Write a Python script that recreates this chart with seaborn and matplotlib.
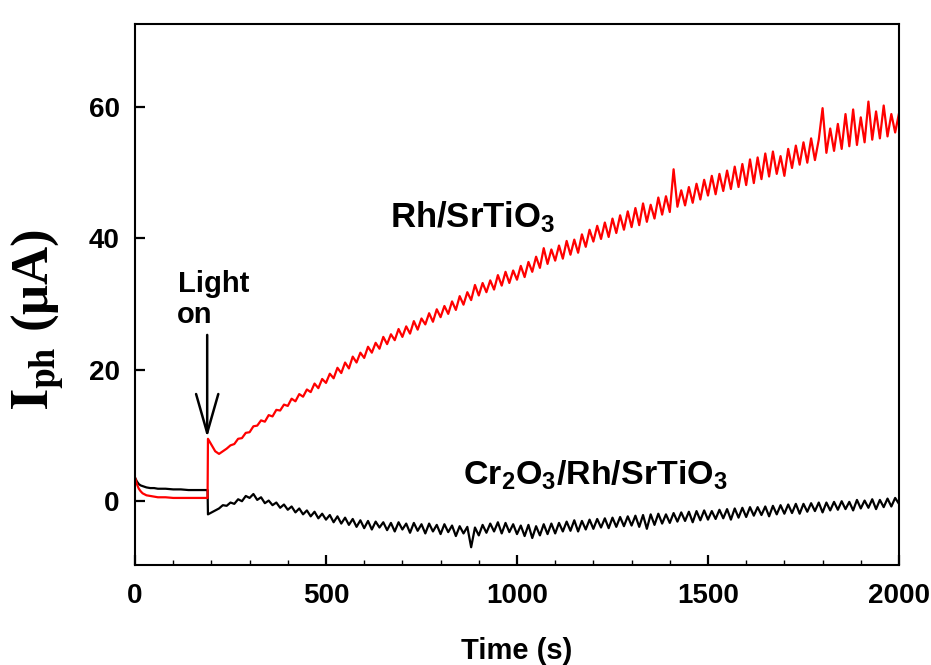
import numpy as np
import pandas as pd
import matplotlib
matplotlib.use("Agg")
import matplotlib.pyplot as plt
import seaborn as sns

# ---------------- data ----------------
t_pre = [0, 5, 10, 15, 20, 30, 40, 50, 60, 80, 100, 120, 140, 160, 180, 190]
rh_pre = [3.6, 2.6, 1.9, 1.5, 1.2, 0.9, 0.8, 0.7, 0.6, 0.6, 0.5, 0.5, 0.5, 0.5, 0.5, 0.5]
cr_pre = [3.6, 3.0, 2.6, 2.4, 2.3, 2.1, 2.0, 2.0, 1.9, 1.9, 1.8, 1.8, 1.7, 1.7, 1.7, 1.7]

t_post = [191] + list(range(210, 2001, 10))
rh_post = [
    9.5, 7.6, 7.2, 7.6, 8.0, 8.5, 8.7, 9.5, 9.6, 10.4,
    10.5, 11.4, 11.5, 12.3, 12.1, 13.1, 12.9, 13.9, 13.8, 14.7,
    14.5, 15.6, 15.2, 16.3, 15.9, 17.0, 16.6, 17.9, 17.2, 18.6,
    18.0, 19.4, 18.7, 20.3, 19.5, 21.1, 20.2, 22.0, 21.1, 22.6,
    21.8, 23.5, 22.6, 24.1, 23.2, 25.0, 23.9, 25.4, 24.5, 26.2,
    25.0, 26.6, 25.5, 27.4, 26.1, 27.8, 26.9, 28.6, 27.3, 29.2,
    28.0, 29.7, 28.5, 30.4, 29.1, 31.2, 29.9, 31.8, 30.6, 32.9,
    31.3, 33.2, 31.8, 33.6, 32.2, 34.4, 32.8, 34.9, 33.2, 35.1,
    33.7, 35.8, 34.1, 36.4, 34.9, 37.2, 35.5, 38.5, 36.1, 38.3,
    36.6, 38.9, 36.9, 39.6, 37.5, 39.8, 37.8, 40.6, 38.7, 41.3,
    39.5, 41.9, 39.9, 42.4, 40.2, 43.0, 40.8, 43.5, 41.3, 44.1,
    41.7, 44.6, 42.0, 45.3, 42.5, 45.1, 43.0, 46.2, 43.6, 46.4,
    44.0, 50.5, 44.8, 47.3, 45.0, 47.8, 45.4, 48.3, 45.9, 48.9,
    46.5, 49.5, 46.7, 49.8, 47.2, 50.3, 47.5, 50.9, 47.8, 51.3,
    48.1, 52.0, 48.4, 52.3, 49.0, 52.9, 49.4, 53.2, 49.8, 52.5,
    49.5, 53.6, 50.7, 54.1, 51.2, 54.6, 51.5, 55.2, 51.9, 55.0,
    59.8, 53.0, 56.7, 53.3, 57.4, 53.6, 58.9, 54.0, 59.6, 54.2,
    58.4, 54.6, 60.8, 55.0, 59.3, 55.2, 60.2, 55.5, 58.9, 56.1,
    59.0,
]
cr_post = [
    -2.0, -1.4, -1.1, -0.6, -0.7, -0.2, -0.4, 0.3, 0.0, 0.8,
    0.5, 1.1, 0.2, 0.6, -0.3, 0.1, -0.6, -0.2, -1.0, -0.5,
    -1.3, -0.8, -1.7, -1.1, -2.0, -1.4, -2.3, -1.6, -2.6, -1.9,
    -2.8, -2.1, -3.2, -2.3, -3.4, -2.5, -3.6, -2.7, -3.9, -2.9,
    -4.1, -3.0, -4.3, -3.1, -4.0, -3.2, -4.4, -3.3, -4.6, -3.2,
    -4.3, -3.4, -4.8, -3.3, -4.5, -3.5, -4.9, -3.4, -4.6, -3.6,
    -5.0, -3.5, -4.7, -3.7, -5.3, -3.8, -4.9, -3.9, -7.0, -4.0,
    -5.2, -3.6, -4.8, -3.4, -4.6, -3.2, -4.9, -3.3, -4.7, -3.5,
    -5.0, -3.7, -5.3, -3.6, -5.6, -3.8, -5.2, -3.5, -5.0, -3.4,
    -4.9, -3.3, -4.6, -3.1, -4.5, -2.9, -4.6, -3.0, -4.3, -2.8,
    -4.2, -2.7, -4.0, -2.6, -4.1, -2.5, -3.9, -2.4, -3.8, -2.3,
    -3.7, -2.2, -3.9, -2.1, -4.2, -2.0, -3.6, -1.9, -3.4, -2.0,
    -3.3, -1.8, -3.1, -1.7, -3.0, -1.6, -3.2, -1.5, -2.9, -1.4,
    -2.8, -1.5, -2.7, -1.3, -2.6, -1.2, -2.8, -1.1, -2.5, -1.0,
    -2.4, -0.9, -2.2, -0.9, -2.1, -0.8, -2.3, -0.7, -2.0, -0.6,
    -1.9, -0.5, -1.8, -0.4, -1.9, -0.4, -1.6, -0.3, -1.5, -0.2,
    -1.7, -0.2, -1.4, -0.1, -1.3, 0.0, -1.2, -0.1, -1.4, 0.2,
    -1.1, 0.1, -1.0, 0.3, -1.2, 0.2, -0.9, 0.4, -0.8, 0.5,
    -0.4,
]

x_ticks = [0, 500, 1000, 1500, 2000]
y_ticks = [0, 20, 40, 60]

# ---------------- style ----------------
sns.set_style("ticks")
plt.rcParams["font.family"] = ["Liberation Sans", "DejaVu Sans"]
plt.rcParams["font.weight"] = "bold"
plt.rcParams["text.color"] = "black"
plt.rcParams["axes.labelcolor"] = "black"
plt.rcParams["xtick.color"] = "black"
plt.rcParams["ytick.color"] = "black"
plt.rcParams["axes.edgecolor"] = "black"
plt.rcParams["mathtext.fontset"] = "custom"
plt.rcParams["mathtext.rm"] = "Liberation Sans:bold"
plt.rcParams["mathtext.bf"] = "Liberation Sans:bold"
plt.rcParams["mathtext.it"] = "Liberation Sans:bold"
plt.rcParams["mathtext.default"] = "bf"

df = pd.DataFrame({
    "t": t_pre + t_post + t_pre + t_post,
    "I": rh_pre + rh_post + cr_pre + cr_post,
    "s": ["Rh"] * (len(t_pre) + len(t_post)) + ["Cr"] * (len(t_pre) + len(t_post)),
})

fig = plt.figure(figsize=(9.31, 6.65), dpi=100)
ax = fig.add_axes([0.145, 0.1504, 0.8206, 0.8135])

sns.lineplot(data=df[df.s == "Cr"], x="t", y="I", color="black", lw=1.6,
             estimator=None, sort=False, ax=ax)
sns.lineplot(data=df[df.s == "Rh"], x="t", y="I", color="#ff0000", lw=1.6,
             estimator=None, sort=False, ax=ax)

ax.set_xlim(0, 2000)
ax.set_ylim(-9.7, 72.6)
ax.set_xticks(x_ticks)
ax.set_yticks(y_ticks)
ax.set_xticks(list(range(100, 2000, 100)), minor=True)
ax.tick_params(axis="both", which="major", direction="in", length=7, width=1.6,
               labelsize=20, top=False, right=False, colors="black")
ax.tick_params(axis="x", which="major", pad=13)
ax.tick_params(axis="y", which="major", pad=11)
ax.tick_params(axis="x", which="minor", direction="in", length=3.5, width=1.0,
               colors="black")
for lab in ax.get_xticklabels() + ax.get_yticklabels():
    lab.set_fontweight("bold")
for sp in ax.spines.values():
    sp.set_visible(True)
    sp.set_linewidth(1.5)
    sp.set_color("black")

ax.set_xlabel("Time (s)", fontsize=21, fontweight="bold", labelpad=20, color="black")
ax.set_ylabel("")
fig.text(38 / 931, 1 - 320 / 665, r"$\mathbf{I}_{\mathbf{ph}}$ (μA)",
         rotation=90, ha="center", va="center", fontsize=38, color="black",
         fontfamily="Liberation Serif", fontweight="bold", math_fontfamily="stix")

ax.text(668, 41.6, r"Rh/SrTiO$_3$", fontsize=25, fontweight="bold",
        ha="left", va="baseline", color="black")
ax.text(859, 2.6, r"Cr$_2$O$_3$/Rh/SrTiO$_3$", fontsize=24.5, fontweight="bold",
        ha="left", va="baseline", color="black")
ax.text(113, 31.8, "Light", fontsize=21, fontweight="bold", ha="left", va="baseline")
ax.text(110, 27.1, "on", fontsize=21, fontweight="bold", ha="left", va="baseline")
ax.annotate("", xy=(189, 9.7), xytext=(189, 25.3),
            arrowprops=dict(arrowstyle="->,head_length=1.4,head_width=0.4",
                            lw=1.8, color="black", mutation_scale=20,
                            shrinkA=0, shrinkB=0))

fig.savefig("out.png", dpi=100)
